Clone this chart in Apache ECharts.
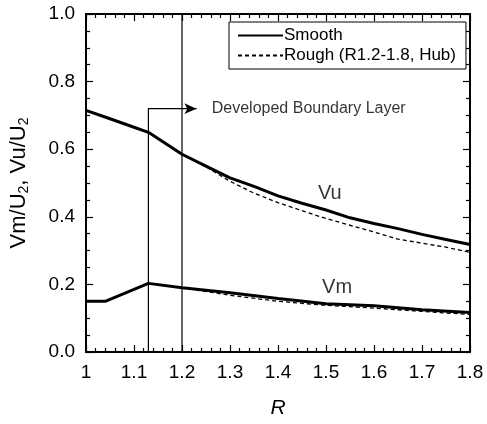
<!DOCTYPE html>
<html>
<head>
<meta charset="utf-8">
<script src="https://cdn.jsdelivr.net/npm/echarts@6/dist/echarts.min.js"></script>
<style>
html,body{margin:0;padding:0;background:#fff;}
#chart{width:487px;height:424px;}
</style>
</head>
<body>
<div id="chart"></div>
<script>
// ---- data ----
const smoothVuR   = [1.0, 1.05, 1.1, 1.13, 1.2, 1.25, 1.3, 1.35, 1.4, 1.45, 1.5, 1.55, 1.6, 1.65, 1.7, 1.75, 1.8];
const smoothVu    = [0.715, 0.69, 0.665, 0.65, 0.585, 0.55, 0.515, 0.49, 0.462, 0.44, 0.42, 0.397, 0.38, 0.365, 0.348, 0.333, 0.318];
const roughVuR    = [1.2, 1.25, 1.3, 1.35, 1.4, 1.45, 1.5, 1.55, 1.6, 1.65, 1.7, 1.75, 1.8];
const roughVu     = [0.585, 0.548, 0.505, 0.47, 0.442, 0.418, 0.395, 0.375, 0.355, 0.334, 0.322, 0.31, 0.295];
const smoothVmR   = [1.0, 1.04, 1.13, 1.2, 1.3, 1.4, 1.5, 1.6, 1.7, 1.8];
const smoothVm    = [0.15, 0.15, 0.203, 0.19, 0.175, 0.158, 0.143, 0.137, 0.125, 0.117];
const roughVmR    = [1.2, 1.3, 1.4, 1.5, 1.6, 1.7, 1.8];
const roughVm     = [0.19, 0.168, 0.15, 0.138, 0.13, 0.12, 0.111];
const boundaryR   = [1.13, 1.2];   // boundary-layer marker lines
const boundaryTop = [0.72, 1.0];
const arrowEndR   = 1.23;
const xTicks = ['1', '1.1', '1.2', '1.3', '1.4', '1.5', '1.6', '1.7', '1.8'];
const yTicks = ['0.0', '0.2', '0.4', '0.6', '0.8', '1.0'];
const legendNames = ['Smooth', 'Rough (R1.2-1.8, Hub)'];
const annotations = [
  {name: 'Vu', value: [1.508, 0.47]},
  {name: 'Vm', value: [1.523, 0.19]}
];
const boundaryText = {name: 'Developed Boundary Layer', value: [1.262, 0.72]};

const zip = (xs, ys) => xs.map((x, i) => [x, ys[i]]);
const FONT = 'Liberation Sans, Arial, Helvetica, sans-serif';

function axis(extra, split) {
  return Object.assign({
    axisLine: {show: true, onZero: false, lineStyle: {color: '#000', width: 2}},
    axisTick: {show: true, inside: true, length: 7, lineStyle: {color: '#000', width: 1.2}},
    minorTick: {show: true, splitNumber: split, length: 4, lineStyle: {color: '#000', width: 1.2}},
    splitLine: {show: false},
    minorSplitLine: {show: false}
  }, extra);
}

const chart = echarts.init(document.getElementById('chart'), null, {renderer: 'canvas'});
chart.setOption({
  animation: false,
  backgroundColor: '#fff',
  textStyle: {fontFamily: FONT, color: '#000'},
  grid: {left: 86, right: 17, top: 14, bottom: 68},
  legend: {
    data: legendNames,
    orient: 'vertical',
    left: 229, top: 22,
    padding: [5, 10, 5, 8],
    itemGap: 3,
    itemWidth: 45, itemHeight: 14,
    borderColor: '#000', borderWidth: 1,
    itemStyle: {opacity: 0},
    textStyle: {fontSize: 17, color: '#000', fontFamily: FONT, padding: [0, 0, 0, -4]},
    selectedMode: false
  },
  xAxis: [
    axis({
      type: 'value', min: 1, max: 1.8, interval: 0.1, position: 'bottom',
      axisLabel: {fontSize: 19, color: '#000', margin: 11, fontFamily: FONT,
        formatter: v => xTicks[Math.round((v - 1) * 10)]},
      name: 'R', nameLocation: 'middle', nameGap: 46,
      nameTextStyle: {fontSize: 21, fontStyle: 'italic', color: '#000', fontFamily: FONT}
    }, 5),
    axis({
      type: 'value', min: 1, max: 1.8, interval: 0.1, position: 'top',
      axisLabel: {show: false}
    }, 5)
  ],
  yAxis: [
    axis({
      type: 'value', min: 0, max: 1, interval: 0.2, position: 'left',
      axisLabel: {fontSize: 19, color: '#000', margin: 11, fontFamily: FONT,
        formatter: v => yTicks[Math.round(v * 5)]},
      name: 'Vm/U{s|2}, Vu/U{s|2}', nameLocation: 'middle', nameGap: 55, nameRotate: 90,
      nameTextStyle: {fontSize: 22, color: '#000', fontFamily: FONT,
        rich: {s: {fontSize: 14, fontFamily: FONT, color: '#000', verticalAlign: 'bottom', padding: [10, 0, 0, 0]}}}
    }, 4),
    axis({
      type: 'value', min: 0, max: 1, interval: 0.2, position: 'right',
      axisLabel: {show: false}
    }, 4)
  ],
  series: [
    {name: legendNames[0], type: 'line', data: zip(smoothVuR, smoothVu), showSymbol: false, symbol: 'none',
      lineStyle: {color: '#000', width: 3}, itemStyle: {color: '#000'}, z: 5},
    {name: legendNames[0], type: 'line', data: zip(smoothVmR, smoothVm), showSymbol: false, symbol: 'none',
      lineStyle: {color: '#000', width: 3}, itemStyle: {color: '#000'}, z: 5},
    {name: legendNames[1], type: 'line', data: zip(roughVuR, roughVu), showSymbol: false, symbol: 'none',
      lineStyle: {color: '#000', width: 1.3, type: [4, 3]}, itemStyle: {color: '#000'}, z: 4},
    {name: legendNames[1], type: 'line', data: zip(roughVmR, roughVm), showSymbol: false, symbol: 'none',
      lineStyle: {color: '#000', width: 1.3, type: [4, 3]}, itemStyle: {color: '#000'}, z: 4},
    {name: 'boundary1', type: 'line', data: [[boundaryR[0], 0], [boundaryR[0], boundaryTop[0]], [arrowEndR, boundaryTop[0]]],
      symbol: 'none', lineStyle: {color: '#000', width: 1.2}, silent: true, z: 3,
      markLine: {silent: true, symbol: ['none', 'arrow'], symbolSize: [8, 12], label: {show: false},
        lineStyle: {color: '#000', width: 1.2, type: 'solid'},
        data: [[{coord: [boundaryR[0], boundaryTop[0]]}, {coord: [arrowEndR, boundaryTop[0]]}]]}},
    {name: 'boundary2', type: 'line', data: [[boundaryR[1], 0], [boundaryR[1], boundaryTop[1]]],
      symbol: 'none', lineStyle: {color: '#000', width: 1.2}, silent: true, z: 3},
    {name: 'labels', type: 'scatter', data: annotations, symbolSize: 0, silent: true,
      label: {show: true, formatter: '{b}', position: 'inside', fontSize: 20, color: '#000', fontFamily: FONT}},
    {name: 'btext', type: 'scatter', data: [boundaryText], symbolSize: 0, silent: true,
      label: {show: true, formatter: '{b}', position: 'right', distance: 0, fontSize: 16, color: '#000', fontFamily: FONT}}
  ]
});
</script>
</body>
</html>
